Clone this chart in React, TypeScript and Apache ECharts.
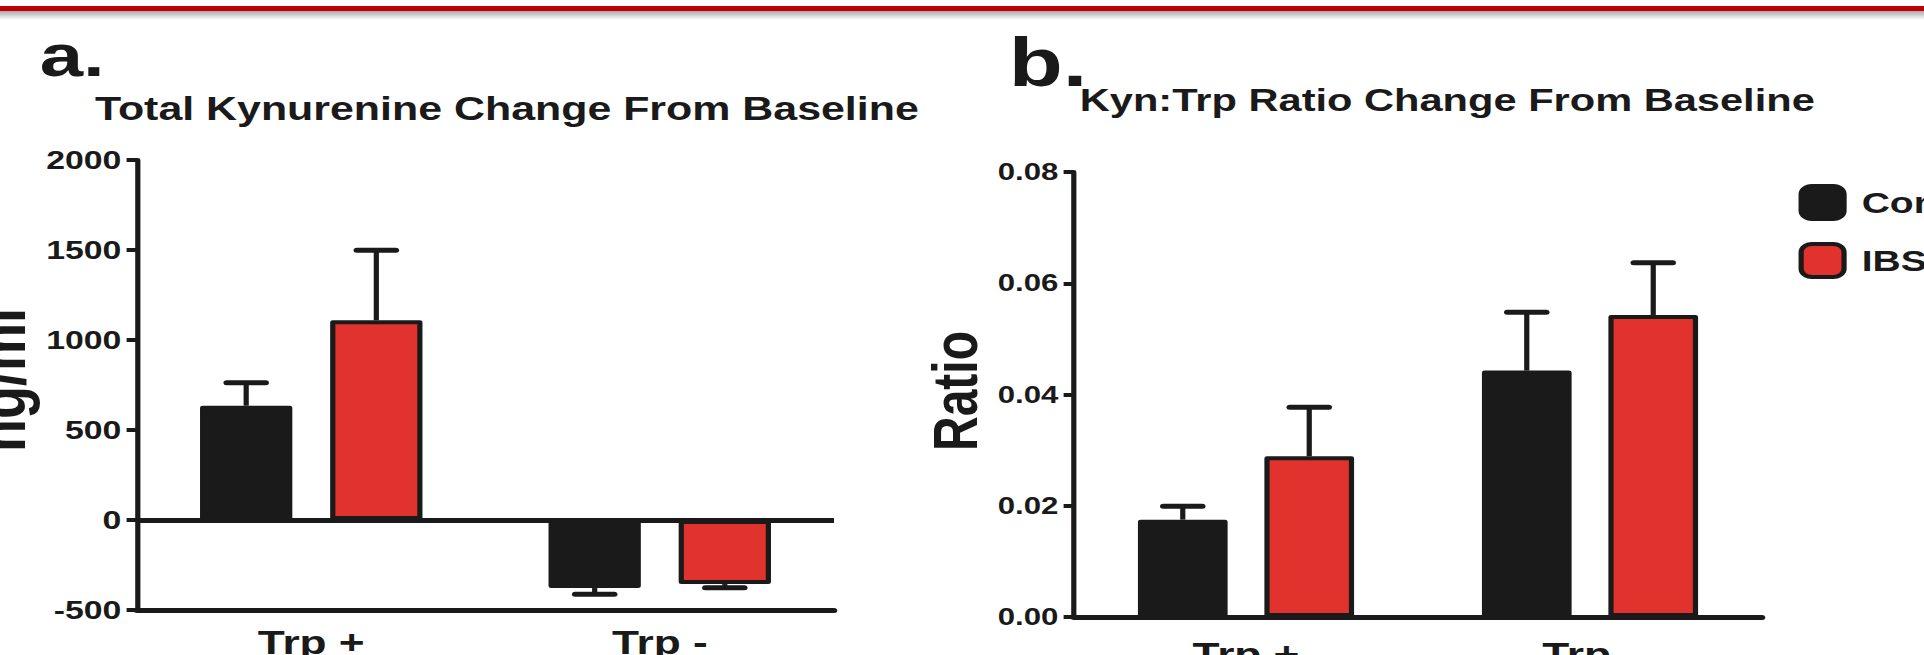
import React, { useEffect, useRef } from 'react';
import * as echarts from 'echarts';

// ---------- data ----------
const categories = ['Trp +', 'Trp -'];
const groupNames = ['Control', 'IBS'];

const kynControl = [635, -378];
const kynControlErr = [127, 35];
const kynIBS = [1110, -356];
const kynIBSErr = [388, 20];
const kynAxis = { min: -500, max: 2000, interval: 500 };

const ratioControl = [0.0175, 0.0443];
const ratioControlErr = [0.0024, 0.0105];
const ratioIBS = [0.0289, 0.0543];
const ratioIBSErr = [0.0088, 0.0094];
const ratioAxis = { min: 0, max: 0.08, interval: 0.02 };

const panelLetters = ['a.', 'b.'];
const panelTitles = ['Total Kynurenine Change From Baseline', 'Kyn:Trp Ratio Change From Baseline'];
const yNames = ['ng/ml', 'Ratio'];

// ---------- style ----------
const SX = 1.3; // the reference is horizontally stretched
const W = 1924 / SX;
const H = 655;
const INK = '#1a1a1a';
const RED = '#e2322d';
const FONT = "'Liberation Sans', Arial, Helvetica, sans-serif";

const BW_A = 71;
const BW_B = 69;
const GAP = 0.41;

function errSeries(idx: number, means: number[], errs: number[], offset: number, capHalf: number) {
  return {
    type: 'custom',
    xAxisIndex: idx,
    yAxisIndex: idx,
    z: 5,
    silent: true,
    encode: { x: 0, y: [1, 2] },
    data: means.map((m, i) => [i, m, m + Math.sign(m) * errs[i]]),
    renderItem: (_p: any, api: any) => {
      const c = api.coord([api.value(0), api.value(1)]);
      const e = api.coord([api.value(0), api.value(2)]);
      const x = c[0] + offset;
      return {
        type: 'group',
        children: [
          { type: 'line', shape: { x1: x, y1: c[1], x2: x, y2: e[1] }, style: { stroke: INK, lineWidth: 4 } },
          {
            type: 'line',
            shape: { x1: x - capHalf, y1: e[1], x2: x + capHalf, y2: e[1] },
            style: { stroke: INK, lineWidth: 5, lineCap: 'round' },
          },
        ],
      };
    },
  };
}

function barSeries(idx: number, name: string, data: number[], bw: number, fill: string, extra: any = {}) {
  return {
    type: 'bar',
    name,
    xAxisIndex: idx,
    yAxisIndex: idx,
    data,
    barWidth: bw,
    barGap: GAP * 100 + '%',
    itemStyle: { color: fill, borderColor: INK, borderWidth: 4, borderJoin: 'round' },
    ...extra,
  };
}

const catAxis = (idx: number, margin: number) => ({
  type: 'category',
  gridIndex: idx,
  data: categories,
  axisLine: { onZero: false, lineStyle: { color: INK, width: 5 } },
  axisTick: { alignWithLabel: true, length: 10, lineStyle: { color: INK, width: 3 } },
  axisLabel: { fontSize: 34, fontWeight: 'bold', color: INK, margin, fontFamily: FONT },
});

const valAxis = (idx: number, ax: any, margin: number, size: number, fmt: (v: number) => string) => ({
  type: 'value',
  gridIndex: idx,
  min: ax.min,
  max: ax.max,
  interval: ax.interval,
  splitLine: { show: false },
  axisLine: { show: true, lineStyle: { color: INK, width: 4 } },
  axisTick: { show: true, length: 8, lineStyle: { color: INK, width: 4 } },
  axisLabel: {
    fontSize: size,
    fontWeight: 'bold',
    color: INK,
    margin,
    fontFamily: FONT,
    formatter: fmt,
    showMinLabel: true,
    showMaxLabel: true,
  },
});

export default function App() {
  const ref = useRef<HTMLDivElement>(null);
  useEffect(() => {
    document.body.style.overflow = 'hidden';
    const chart = echarts.init(ref.current!, null, { renderer: 'svg' });
    const offA = (BW_A * (1 + GAP)) / 2;
    const offB = (BW_B * (1 + GAP)) / 2;
    const txt = (text: string, x: number, y: number, size: number, rot = 0, align = 'left') => ({
      type: 'text',
      x,
      y,
      rotation: rot,
      silent: true,
      style: { text, fill: INK, font: `bold ${size}px ${FONT}`, textAlign: align, textVerticalAlign: 'middle' },
    });
    chart.setOption({
      animation: false,
      backgroundColor: '#ffffff',
      textStyle: { fontFamily: FONT },
      grid: [
        { left: 137 / SX, top: 160, width: (834 - 137) / SX, height: 450, outerBoundsMode: 'none', containLabel: false },
        { left: 1074 / SX, top: 172, width: (1762 - 1074) / SX, height: 445, outerBoundsMode: 'none', containLabel: false },
      ],
      xAxis: [catAxis(0, 15), catAxis(1, 20)],
      yAxis: [
        valAxis(0, kynAxis, 12, 26, (v: number) => String(v)),
        valAxis(1, ratioAxis, 12, 24, (v: number) => v.toFixed(2)),
      ],
      legend: {
        data: [
          { name: groupNames[0], itemStyle: { color: INK, borderColor: INK, borderWidth: 4 } },
          { name: groupNames[1], itemStyle: { color: RED, borderColor: INK, borderWidth: 4 } },
        ],
        orient: 'vertical',
        left: 1378.5,
        top: 179,
        icon: 'roundRect',
        itemWidth: 33,
        itemHeight: 33,
        itemGap: 21,
        selectedMode: false,
        textStyle: { fontSize: 30, fontWeight: 'bold', color: INK, fontFamily: FONT, lineHeight: 32, padding: [0, 0, 0, 8.6] },
      },
      graphic: [
        { type: 'rect', left: 0, top: 6, silent: true, shape: { width: W, height: 5 }, style: { fill: '#c00000' } },
        {
          type: 'rect',
          left: 0,
          top: 11,
          silent: true,
          shape: { width: W, height: 9 },
          style: {
            fill: new echarts.graphic.LinearGradient(0, 0, 0, 1, [
              { offset: 0, color: '#a9a9a9' },
              { offset: 1, color: '#ffffff' },
            ]),
          },
        },
        txt(panelLetters[0], 30.5, 55, 60),
        txt(panelTitles[0], 73, 108.5, 33),
        txt(panelLetters[1], 776, 63, 68),
        txt(panelTitles[1], 830.6, 100, 32),
        txt(yNames[0], 0, 380, 54, Math.PI / 2, 'center'),
        txt(yNames[1], 735, 391, 48, Math.PI / 2, 'center'),
      ],
      series: [
        barSeries(0, groupNames[0], kynControl, BW_A, INK, {
          markLine: {
            silent: true,
            symbol: 'none',
            label: { show: false },
            lineStyle: { color: INK, width: 5, type: 'solid' },
            data: [{ yAxis: 0 }],
          },
        }),
        barSeries(0, groupNames[1], kynIBS, BW_A, RED),
        errSeries(0, kynControl, kynControlErr, -offA, 15),
        errSeries(0, kynIBS, kynIBSErr, offA, 15),
        barSeries(1, groupNames[0], ratioControl, BW_B, INK),
        barSeries(1, groupNames[1], ratioIBS, BW_B, RED),
        errSeries(1, ratioControl, ratioControlErr, -offB, 15),
        errSeries(1, ratioIBS, ratioIBSErr, offB, 15),
      ],
    });
    return () => chart.dispose();
  }, []);
  return (
    <div
      ref={ref}
      style={{
        position: 'absolute',
        left: 0,
        top: 0,
        width: W,
        height: H,
        transform: `scaleX(${SX})`,
        transformOrigin: '0 0',
      }}
    />
  );
}
